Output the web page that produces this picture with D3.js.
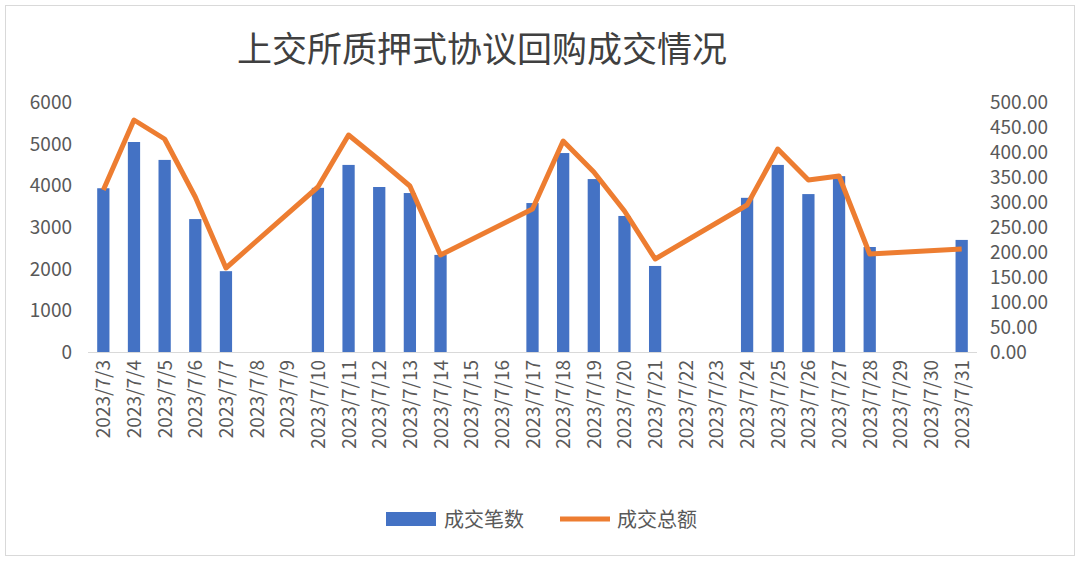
<!DOCTYPE html>
<html><head><meta charset="utf-8">
<script src="https://cdn.jsdelivr.net/npm/d3@7"></script>
<style>body{margin:0;background:#fff;font-family:"Noto Sans CJK SC","Noto Sans",sans-serif}</style>
</head><body><svg id="c" width="1080" height="561"></svg>
<script>
// dates shown on the axis (every calendar day)
var dates = d3.range(3, 32).map(function(d) { return "2023/7/" + d; });
// trading days only
var tradeDays = [3,4,5,6,7,10,11,12,13,14,17,18,19,20,21,24,25,26,27,28,31];
var counts = [3930,5040,4610,3190,1940,3940,4490,3960,3815,2330,3575,4775,4150,3265,2065,3700,4490,3790,4220,2520,2690];
var amounts = [324,464,426,310,168,330,434,384,332,194,286,422,360,282,186,294,406,344,352,196,206];
var leftTicks = [0,1000,2000,3000,4000,5000,6000];
var rightTicks = d3.range(0, 501, 50);

var svg = d3.select("#c");
svg.append("rect").attr("x",5.5).attr("y",5.5).attr("width",1069).attr("height",550)
  .attr("fill","none").attr("stroke","#d9d9d9");

svg.append("text").attr("x",482).attr("y",62).attr("text-anchor","middle")
  .attr("font-size",35).attr("fill","#404040").text("上交所质押式协议回购成交情况");

var x = d3.scaleBand().domain(dates).range([88, 977]).paddingInner(0.6).paddingOuter(0.3);
var yL = d3.scaleLinear().domain([0, 6000]).range([352, 102]);
var yR = d3.scaleLinear().domain([0, 500]).range([352, 102]);

var tickColor = "#595959";
svg.append("g").selectAll("text").data(leftTicks).join("text")
  .attr("x", 72).attr("y", function(d) { return yL(d) + 7; })
  .attr("text-anchor","end").attr("font-size",19).attr("fill",tickColor).text(function(d) { return d; });
svg.append("g").selectAll("text").data(rightTicks).join("text")
  .attr("x", 990).attr("y", function(d) { return yR(d) + 7; })
  .attr("font-size",19).attr("fill",tickColor).text(function(d) { return d.toFixed(2); });

svg.append("line").attr("x1",88).attr("x2",977).attr("y1",352.5).attr("y2",352.5).attr("stroke","#d9d9d9");

svg.append("g").selectAll("text").data(dates).join("text")
  .attr("transform", function(d) { return "translate(" + (x(d) + x.bandwidth()/2 + 7) + ",360) rotate(-90)"; })
  .attr("text-anchor","end").attr("font-size",19).attr("fill",tickColor).text(function(d) { return d; });

var rows = tradeDays.map(function(d, i) { return {date: "2023/7/" + d, c: counts[i], a: amounts[i]}; });

svg.append("g").selectAll("rect").data(rows).join("rect")
  .attr("x", function(d) { return x(d.date); }).attr("width", x.bandwidth())
  .attr("y", function(d) { return yL(d.c); }).attr("height", function(d) { return 352 - yL(d.c); })
  .attr("fill","#4472c4");

var line = d3.line().x(function(d) { return x(d.date) + x.bandwidth()/2; }).y(function(d) { return yR(d.a); });
svg.append("path").datum(rows).attr("d", line).attr("fill","none")
  .attr("stroke","#ed7d31").attr("stroke-width",5).attr("stroke-linejoin","round");

var lg = svg.append("g").attr("font-size",20).attr("fill",tickColor);
lg.append("rect").attr("x",386).attr("y",512).attr("width",50).attr("height",14).attr("fill","#4472c4");
lg.append("text").attr("x",444).attr("y",527).text("成交笔数");
lg.append("line").attr("x1",560).attr("x2",610).attr("y1",519).attr("y2",519).attr("stroke","#ed7d31").attr("stroke-width",5);
lg.append("text").attr("x",617).attr("y",527).text("成交总额");
</script></body></html>
